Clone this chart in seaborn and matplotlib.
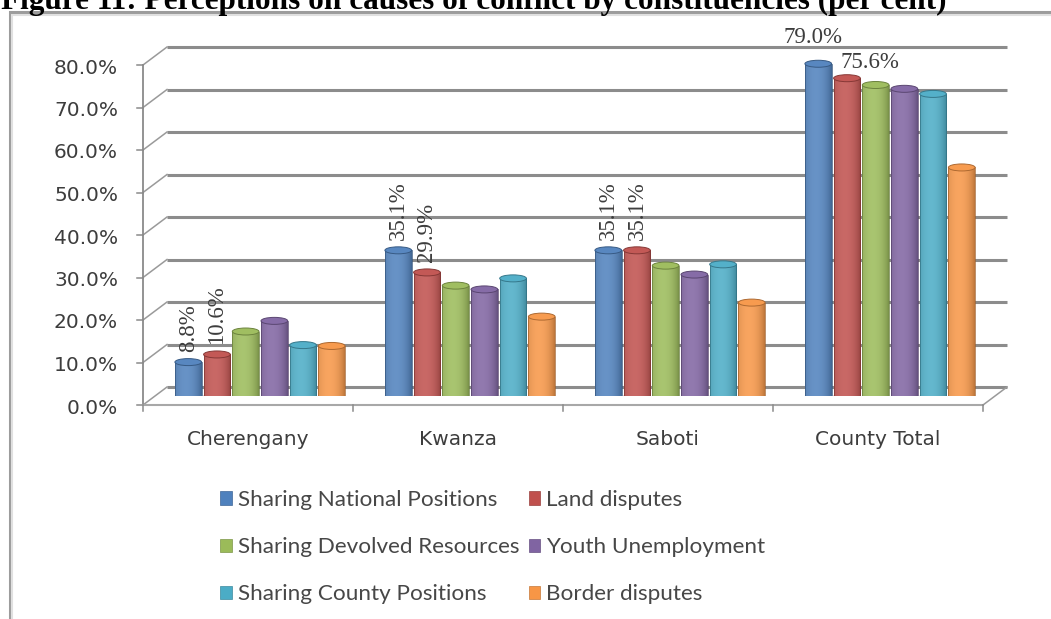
import numpy as np
import pandas as pd
import matplotlib
matplotlib.use("Agg")
import matplotlib.pyplot as plt
from matplotlib.patches import Rectangle, Ellipse
from matplotlib.colors import to_rgb
import seaborn as sns

# ---- data -------------------------------------------------------------
constituencies = ["Cherengany", "Kwanza", "Saboti", "County Total"]
causes = ["Sharing National Positions", "Land disputes",
          "Sharing Devolved Resources", "Youth Unemployment",
          "Sharing County Positions", "Border disputes"]
national_positions = [8.8, 35.1, 35.1, 79.0]
land_disputes = [10.6, 29.9, 35.1, 75.6]
devolved_resources = [16.0, 26.8, 31.5, 74.0]
youth_unemployment = [18.5, 25.9, 29.4, 73.1]
county_positions = [12.8, 28.5, 31.8, 71.9]
border_disputes = [12.6, 19.5, 22.8, 54.6]
y_ticks = [0, 10, 20, 30, 40, 50, 60, 70, 80]
series_colors = ["#4F81BD", "#C0504D", "#9BBB59", "#8064A2", "#4BACC6", "#F79646"]

series_values = [national_positions, land_disputes, devolved_resources,
                 youth_unemployment, county_positions, border_disputes]
df = pd.DataFrame([
    {"constituency": c, "cause": cause, "value": v}
    for cause, vals in zip(causes, series_values)
    for c, v in zip(constituencies, vals)
])

# ---- figure / axes geometry --------------------------------------------
W, H, DPI = 1051, 619, 100
fig = plt.figure(figsize=(W / DPI, H / DPI), dpi=DPI)
fig.patch.set_facecolor("white")

PX_PER_UNIT = 4.25           # vertical pixels per percentage point
CAT_PX = 210                 # pixels per category
ax = fig.add_axes([155 / W, (H - 396) / H, 4 * CAT_PX / W, 80 * PX_PER_UNIT / H])
ax.set_facecolor("none")

sns.barplot(data=df, x="constituency", y="value", hue="cause",
            order=constituencies, hue_order=causes, palette=series_colors,
            saturation=1, width=0.82, gap=0.07, legend=False, ax=ax)

ax.set_xlim(-0.5, 3.5)
ax.set_ylim(0, 80)
ax.axis("off")

# depth of the pseudo-3D box (bars sit half-way between front and back)
DX = 12 / CAT_PX
DY = 9 / PX_PER_UNIT
GRID = "#8c8c8c"
TXT = "#3d3d3d"

# back wall gridlines and the diagonals joining them to the front axis
for v in y_ticks:
    ax.plot([-0.5 + DX, 3.5 + DX], [v + DY, v + DY], color=GRID, lw=2.2,
            solid_capstyle="butt", zorder=0.5, clip_on=False)
    ax.plot([-0.5 - DX, -0.5 + DX], [v - DY, v + DY], color="#9a9a9a", lw=1.1,
            zorder=0.5, clip_on=False)
    ax.plot([-0.5 - DX, -0.5 - DX - 6 / CAT_PX], [v - DY, v - DY],
            color="#8a8a8a", lw=1.1, zorder=0.5, clip_on=False)

# front y axis line and floor edges
ax.plot([-0.5 - DX, -0.5 - DX], [-DY, 80 - DY], color="#8a8a8a", lw=1.3,
        zorder=0.5, clip_on=False)
ax.plot([-0.5 - DX, 3.5 - DX], [-DY, -DY], color="#a8a8a8", lw=1.5,
        zorder=0.5, clip_on=False)
ax.plot([3.5 - DX, 3.5 + DX], [-DY, DY], color="#9a9a9a", lw=1.1,
        zorder=0.5, clip_on=False)
for i in range(5):
    x = i - 0.5 - DX
    ax.plot([x, x], [-DY, -DY - 6 / PX_PER_UNIT], color="#8a8a8a", lw=1.1,
            zorder=0.5, clip_on=False)

# ---- cylinder styling of the seaborn bars --------------------------------
def mix(c, other, t):
    c = np.array(to_rgb(c)); o = np.array(to_rgb(other))
    return tuple(c * (1 - t) + o * t)

CAP_H = 7 / PX_PER_UNIT
t = np.linspace(0, 1, 64)
g = np.clip(1 - ((t - 0.40) / 0.62) ** 2, 0, 1) ** 0.7

for p in list(ax.patches):
    base = p.get_facecolor()[:3]
    x0, w, h = p.get_x(), p.get_width(), p.get_height()
    if h <= 0:
        continue
    dark = np.array(mix(base, "black", 0.28))
    light = np.array(mix(base, "white", 0.14))
    grad = dark[None, :] * (1 - g[:, None]) + light[None, :] * g[:, None]
    img = np.repeat(grad[None, :, :], 2, axis=0)
    body_top = h - CAP_H / 2
    p.set_height(body_top)
    p.set_facecolor("none")
    p.set_edgecolor(mix(base, "black", 0.35))
    p.set_linewidth(0.5)
    p.set_zorder(2.2)
    im = ax.imshow(img, extent=[x0, x0 + w, 0, body_top], aspect="auto",
                   origin="lower", zorder=2, interpolation="bilinear")
    im.set_clip_path(p)
    # rounded foot and top cap
    ax.add_patch(Ellipse((x0 + w / 2, 0), w, CAP_H, facecolor=mix(base, "black", 0.3),
                         edgecolor="none", zorder=1.9))
    ax.add_patch(Ellipse((x0 + w / 2, body_top), w, CAP_H,
                         facecolor=mix(base, "white", 0.05),
                         edgecolor=mix(base, "black", 0.3), lw=0.7, zorder=2.4))

ax.set_xlim(-0.5, 3.5)
ax.set_ylim(0, 80)

# ---- data labels -----------------------------------------------------------
n_h = len(causes)
slot = 0.82 / n_h
def bar_center(cat_idx, hue_idx):
    return cat_idx - 0.82 / 2 + slot * (hue_idx + 0.5)

label_font = dict(family="Liberation Serif", size=16.5, color=TXT)
for hue_idx, vals in enumerate([national_positions, land_disputes]):
    for ci, v in enumerate(vals[:3]):
        ax.annotate(f"{v:.1f}%", xy=(bar_center(ci, hue_idx), v),
                    xytext=(0, 7), textcoords="offset pixels", rotation=90,
                    ha="center", va="bottom", zorder=5, **label_font)
ax.annotate(f"{national_positions[3]:.1f}%", xy=(bar_center(3, 0), national_positions[3]),
            xytext=(-5, 12), textcoords="offset pixels", ha="center", va="bottom",
            zorder=5, **label_font)
ax.annotate(f"{land_disputes[3]:.1f}%", xy=(bar_center(3, 1), land_disputes[3]),
            xytext=(-6, 12), textcoords="offset pixels", ha="left", va="center",
            zorder=5, **label_font)

# ---- axis labels ------------------------------------------------------------
tick_font = dict(family="DejaVu Sans", size=14.5, color=TXT)
for v in y_ticks:
    ax.annotate(f"{v:.1f}%", xy=(-0.5, v), xytext=(-12 - 25, -9 - 3),
                textcoords="offset pixels", ha="right", va="center",
                annotation_clip=False, **tick_font)
for ci, name in enumerate(constituencies):
    ax.annotate(name, xy=(ci, 0), xytext=(-12, -49), textcoords="offset pixels",
                ha="center", va="baseline", annotation_clip=False, **tick_font)

# ---- legend (row-wise order in two columns) ---------------------------------
handles = [Rectangle((0, 0), 1, 1, facecolor=c, edgecolor=mix(c, "black", 0.2), lw=0.5)
           for c in series_colors]
order = [0, 2, 4, 1, 3, 5]
fig.legend([handles[i] for i in order], [causes[i] for i in order], ncol=2,
           loc="upper left", bbox_to_anchor=(220 / W, 1 - 490 / H),
           frameon=False, prop=dict(family="Lato", size=16.2),
           labelcolor="#474747", handlelength=0.53, handleheight=0.53,
           handletextpad=0.27, columnspacing=0.4, labelspacing=1.21,
           borderpad=0, borderaxespad=0)

# ---- outer frame and heading --------------------------------------------------
fig.add_artist(Rectangle((10 / W, -0.2), 1.2, 1.2 - 12 / H, transform=fig.transFigure,
                         fill=False, edgecolor="#9c9c9c", lw=2.2, zorder=0))
fig.add_artist(Rectangle((12 / W, -0.2), 1.2, 1.2 - 15 / H, transform=fig.transFigure,
                         fill=False, edgecolor="#e0e0e0", lw=1.5, zorder=0))
fig.text(1 / W, 1 - 9 / H,
         "Figure 11: Perceptions on causes of conflict by constituencies (per cent)",
         family="Liberation Serif", weight="bold", size=22.5, color="black",
         ha="left", va="baseline")

fig.savefig("out.png", dpi=DPI)
